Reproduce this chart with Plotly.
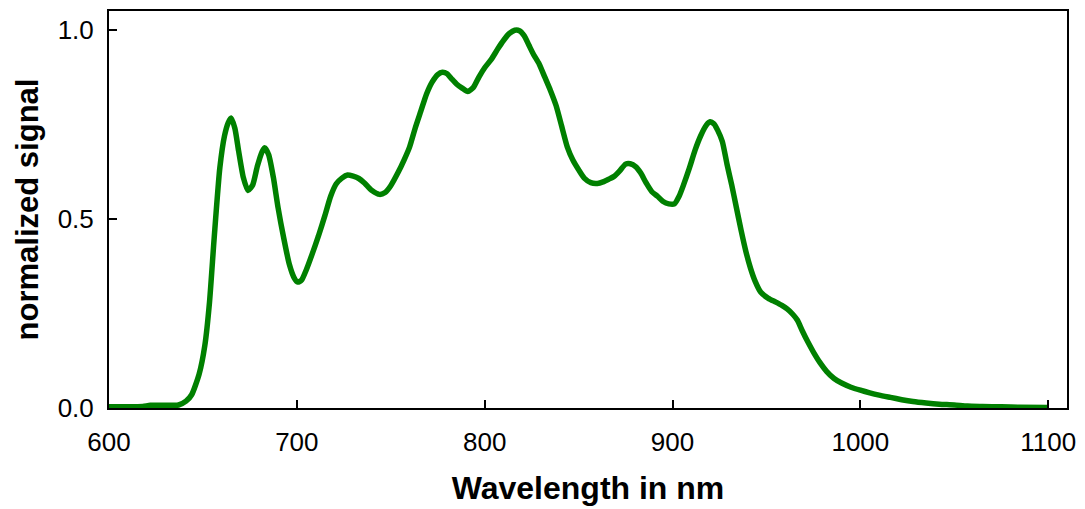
import plotly.graph_objects as go

wavelength = [600, 610, 618, 622, 630, 637, 641, 644, 648, 651, 653.5, 656, 659, 661.5, 663.5, 665, 667, 669, 671.5, 674,
              676.5, 679, 681.5, 683, 685, 687.5, 690, 693, 696, 698.5, 700.5, 702.5, 705, 708, 711.5, 715, 718, 721, 724, 727,
              730, 733, 736, 740, 744, 747, 750, 754, 757, 760, 763, 766, 769, 772, 775, 777.5, 780, 782.5, 785, 788,
              791, 794, 797, 800, 803.5, 807, 810, 813, 816, 818.5, 821, 823.5, 826, 829, 832, 835, 838, 841, 844, 847,
              850, 853, 856.5, 860, 863, 866, 869, 872, 875, 877.5, 880.5, 883, 886, 889, 892, 895, 898, 901, 903.5, 906,
              909, 912, 915, 918, 920, 922, 924, 926.5, 929, 931.5, 934, 936.5, 939, 941.5, 944, 947, 951, 955, 958, 961,
              964, 966.5, 969, 972, 975, 978.5, 982, 986, 990, 995, 1000, 1005, 1010, 1016, 1022, 1028, 1035, 1042, 1050, 1057,
              1065, 1075, 1085, 1100]
signal = [0.003, 0.003, 0.004, 0.007, 0.007, 0.008, 0.018, 0.035, 0.09, 0.165, 0.28, 0.45, 0.635, 0.72, 0.755, 0.767, 0.74, 0.68, 0.61, 0.575,
          0.59, 0.64, 0.678, 0.688, 0.67, 0.61, 0.53, 0.45, 0.38, 0.345, 0.333, 0.338, 0.365, 0.405, 0.455, 0.51, 0.56, 0.593, 0.608, 0.616,
          0.613, 0.607, 0.595, 0.575, 0.565, 0.57, 0.588, 0.624, 0.655, 0.69, 0.74, 0.785, 0.83, 0.862, 0.882, 0.888, 0.884, 0.87, 0.857, 0.846,
          0.837, 0.848, 0.876, 0.9, 0.922, 0.95, 0.972, 0.99, 0.999, 0.998, 0.985, 0.96, 0.935, 0.91, 0.875, 0.84, 0.8, 0.745, 0.69, 0.655,
          0.63, 0.608, 0.596, 0.594, 0.598, 0.605, 0.613, 0.628, 0.645, 0.646, 0.638, 0.622, 0.595, 0.572, 0.56, 0.546, 0.54, 0.54, 0.56, 0.592,
          0.635, 0.682, 0.72, 0.748, 0.757, 0.752, 0.735, 0.705, 0.645, 0.59, 0.53, 0.47, 0.415, 0.37, 0.335, 0.306, 0.29, 0.28, 0.272, 0.262,
          0.248, 0.232, 0.205, 0.175, 0.148, 0.12, 0.097, 0.078, 0.066, 0.055, 0.047, 0.04, 0.034, 0.028, 0.022, 0.017, 0.013, 0.01, 0.008, 0.005,
          0.004, 0.003, 0.002, 0.001]

x_ticks = [600, 700, 800, 900, 1000, 1100]
y_ticks = [0.0, 0.5, 1.0]
y_tick_labels = ["0.0", "0.5", "1.0"]

fig = go.Figure()
fig.add_trace(go.Scatter(
    x=wavelength, y=signal, mode="lines",
    line=dict(color="#008000", width=5.5, shape="spline", smoothing=0.6),
    showlegend=False,
))

font_family = "Liberation Sans, Arial, sans-serif"

fig.update_layout(
    width=1085, height=509,
    margin=dict(l=109, r=15, t=9, b=101),
    paper_bgcolor="white", plot_bgcolor="white",
    font=dict(family=font_family, color="black"),
    xaxis=dict(
        range=[600, 1110], tickvals=x_ticks, ticks="inside", ticklen=8, tickwidth=1.5,
        tickcolor="black", showline=True, linecolor="black", linewidth=2, mirror=True,
        showgrid=False, zeroline=False, tickfont=dict(size=26, family=font_family),
        ticklabelstandoff=10,
        title=dict(text="<b>Wavelength in nm</b>", font=dict(size=32, family=font_family), standoff=20),
    ),
    yaxis=dict(
        range=[0, 1.05], tickvals=y_ticks, ticktext=y_tick_labels, ticks="inside", ticklen=8, tickwidth=1.5,
        tickcolor="black", showline=True, linecolor="black", linewidth=2, mirror=True,
        showgrid=False, zeroline=False, tickfont=dict(size=26, family=font_family),
        ticklabelstandoff=8,
        title=dict(text="<b>normalized signal</b>", font=dict(size=31, family=font_family), standoff=10),
    ),
)

fig.write_html("out.html")
